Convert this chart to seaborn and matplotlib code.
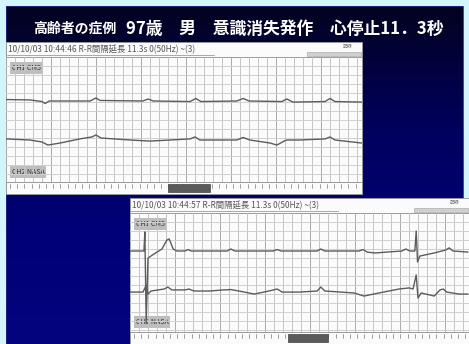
import numpy as np
import pandas as pd
import matplotlib
matplotlib.use("Agg")
import matplotlib.pyplot as plt
from matplotlib.patches import Rectangle
import seaborn as sns

sns.set_theme(style="white")
plt.rcParams["font.family"] = ["Noto Sans CJK JP", "DejaVu Sans"]

# ---- data -------------------------------------------------------------
title_small = "高齢者の症例"
title_main = "97歳　男　意識消失発作　心停止11．3秒"
header_1 = "10/10/03 10:44:46 R-R間隔延長 11.3s 0(50Hz) ~(3)"
header_2 = "10/10/03 10:44:57 R-R間隔延長 11.3s 0(50Hz) ~(3)"
ch1_label = "CH1 CM5"
ch2_label = "CH2 NASA"

# strip 1 (10:44:46), time in s, amplitude in mV
s1_ch1_t = [0.00, 0.53, 0.80, 0.87, 0.96, 1.87, 2.00, 2.09, 3.04, 3.16, 3.27,
            4.09, 4.22, 4.33, 5.13, 5.27, 5.40, 6.13, 6.24, 6.38, 7.09, 7.20,
            7.31, 7.91]
s1_ch1_mv = [0.08, 0.06, -0.03, -0.14, 0.00, 0.00, 0.17, 0.03, 0.00, 0.11, 0.00,
             -0.03, 0.14, -0.03, 0.00, 0.14, 0.00, -0.03, 0.11, -0.06, -0.03, 0.14,
             -0.03, -0.06]
s1_ch2_t = [0.00, 0.53, 0.80, 0.93, 1.20, 1.64, 1.91, 2.00, 2.11, 2.76, 3.20,
            4.09, 4.20, 4.31, 5.13, 5.27, 5.42, 5.87, 6.02, 6.18, 6.24, 6.53,
            7.09, 7.20, 7.31, 7.91]
s1_ch2_mv = [0.06, 0.00, -0.11, -0.28, -0.17, 0.06, 0.17, 0.28, 0.11, 0.00, -0.06,
             0.06, 0.17, 0.00, 0.00, 0.14, 0.00, -0.17, -0.28, -0.06, 0.00, 0.00,
             0.06, 0.17, 0.00, -0.17]

# strip 2 (10:44:57)
s2_ch1_t = [0.00, 0.31, 0.33, 0.36, 0.40, 0.53, 0.71, 0.82, 0.87, 0.96, 1.04,
            1.22, 1.29, 1.36, 2.16, 2.24, 2.33, 3.18, 3.27, 3.36, 4.16, 4.24,
            4.33, 5.09, 5.18, 5.27, 5.44, 6.04, 6.13, 6.22, 6.33, 6.36, 6.39,
            6.44, 6.76, 7.02, 7.09, 7.18, 7.51]
s2_ch1_mv = [0.00, 0.00, 1.06, -4.00, -0.39, -0.17, 0.11, 0.61, 0.67, 0.11, 0.00,
             0.00, 0.08, 0.00, 0.00, 0.11, 0.00, 0.00, 0.08, 0.00, 0.00, 0.11,
             0.00, 0.00, 0.08, -0.06, -0.11, 0.00, 0.11, 0.00, 0.00, 1.11, -0.61,
             -0.28, -0.11, 0.06, 0.17, 0.00, -0.06]
s2_ch2_t = [0.00, 0.29, 0.36, 0.40, 0.47, 0.76, 0.84, 0.93, 1.22, 1.31, 1.42,
            1.76, 2.09, 2.24, 2.42, 2.76, 3.09, 3.27, 3.38, 3.76, 4.16, 4.24,
            4.33, 4.98, 5.20, 5.53, 5.98, 6.20, 6.29, 6.36, 6.40, 6.47, 6.76,
            6.89, 6.96, 7.04, 7.31, 7.51]
s2_ch2_mv = [-0.06, -0.06, 0.33, -0.17, 0.00, 0.11, 0.22, 0.06, 0.06, 0.11, 0.00,
             0.00, 0.06, 0.08, 0.00, -0.17, 0.00, 0.11, -0.06, -0.06, 0.00, 0.22,
             0.00, -0.11, -0.28, -0.11, 0.11, 0.17, 0.11, 0.89, -0.39, -0.11, -0.28,
             0.06, 0.11, -0.06, -0.17, -0.17]

# ---- figure ------------------------------------------------------------
W, H = 469, 344
fig = plt.figure(figsize=(W / 100, H / 100), dpi=100)
fig.patch.set_facecolor("#d2f6fb")

# slide background in pixel coordinates
bg = fig.add_axes([0, 0, 1, 1])
bg.set_xlim(0, W)
bg.set_ylim(H, 0)
bg.axis("off")
grad = np.linspace(0, 1, 256)[:, None]
navy = matplotlib.colors.LinearSegmentedColormap.from_list(
    "navy", ["#03031f", "#00005a", "#000078", "#04047e"])
bg.imshow(grad, cmap=navy, extent=(6, 463, H, 6), aspect="auto", zorder=0)
bg.add_patch(Rectangle((6, 6), 457, H, fill=False, ec="#2a2a8a", lw=0.6, zorder=1))

bg.text(33, 29, title_small, color="white", fontsize=10, fontweight="bold",
        va="center", ha="left", zorder=3)
bg.text(126, 29, title_main, color="white", fontsize=12.1, fontweight="bold",
        va="center", ha="left", zorder=3)

PX_S = 45.0   # pixels per second
PX_MV = 18.0  # pixels per mV


def strip(left, top, right, bottom, header, thumb, segs, t_list, offs):
    """Draw one recorder strip: header band, grid with traces, bottom ruler."""
    # paper
    bg.add_patch(Rectangle((left, top), right - left, bottom - top,
                           fc="#fbfbfb", ec="#9a9a9a", lw=0.6, zorder=2))
    # header band
    bg.text(left + 2, top + 7.5, header, fontsize=6, color="#555555",
            va="center", ha="left", zorder=4)
    bg.plot([left + 1, left + 208], [top + 13, top + 13], color="#888888", lw=0.5, zorder=4)
    bg.add_patch(Rectangle((right - 55, top + 10), 54, 4, fc="#d0d0d0",
                           ec="#a0a0a0", lw=0.4, zorder=4))
    bg.text(right - 14, top + 5, "記録", fontsize=3.5, color="#666666",
            va="center", ha="center", zorder=4)
    gtop, gbot = top + 15, bottom - 12
    bg.plot([left, right], [gtop, gtop], color="#8a8a8a", lw=0.6, zorder=4)
    # ruler
    bg.plot([left, right], [gbot, gbot], color="#8a8a8a", lw=0.6, zorder=4)
    for x in np.arange(left + 4, right - 2, 7.2):
        bg.plot([x, x], [gbot + 2, gbot + 6], color="#7a7a7a", lw=0.5, zorder=4)
    bg.add_patch(Rectangle((thumb[0], gbot + 1.5), thumb[1] - thumb[0], 8,
                           fc="#5a5a5a", ec="#444444", lw=0.5, zorder=5))

    # grid + traces axis
    ax = fig.add_axes([left / W, 1 - gbot / H, (right - left) / W, (gbot - gtop) / H])
    ax.set_facecolor("none")
    ax.set_zorder(6)
    xmax = (right - left) / PX_S
    ymax = (gbot - gtop) / PX_MV
    for t in np.arange(0, xmax, 0.2):
        major = abs(round(t / 1.0) - t / 1.0) < 1e-6
        ax.axvline(t, color="#a9a9a9" if major else "#c4c4c4", lw=0.7, zorder=0)
    for v in np.arange(ymax % 0.5, ymax, 0.5):
        ax.axhline(v, color="#cfcfcf", lw=0.7, zorder=0)
    for (tt, mv), off in zip(t_list, offs):
        df = pd.DataFrame({"t": tt, "mV": np.asarray(mv) + off})
        sns.lineplot(data=df, x="t", y="mV", ax=ax, color="#5c5c5c", lw=1.0,
                     sort=False, estimator=None, zorder=3)
    ax.set_xlim(0, xmax)
    ax.set_ylim(0, ymax)
    ax.set_xlabel("")
    ax.set_ylabel("")
    ax.set_xticks([])
    ax.set_yticks([])
    for s in ax.spines.values():
        s.set_visible(False)
    # channel labels
    for lab, yy in ((segs[0], gtop + 11), (segs[1], gbot - 10)):
        bg.text(left + 6, yy, lab, fontsize=5, color="#333333", va="center",
                ha="left", zorder=7,
                bbox=dict(boxstyle="square,pad=0.25", fc="#bdbdbd", ec="none"))
    return ax


strip(6, 42, 362, 194, header_1, (168, 210), (ch1_label, ch2_label),
      [(s1_ch1_t, s1_ch1_mv), (s1_ch2_t, s1_ch2_mv)],
      [(182 - 101) / PX_MV, (182 - 140) / PX_MV])
strip(130, 198, 469, 344, header_2, (288, 328), (ch1_label, ch2_label),
      [(s2_ch1_t, s2_ch1_mv), (s2_ch2_t, s2_ch2_mv)],
      [(332 - 251) / PX_MV, (332 - 291) / PX_MV])

fig.savefig("out.png", dpi=100, facecolor=fig.get_facecolor())
